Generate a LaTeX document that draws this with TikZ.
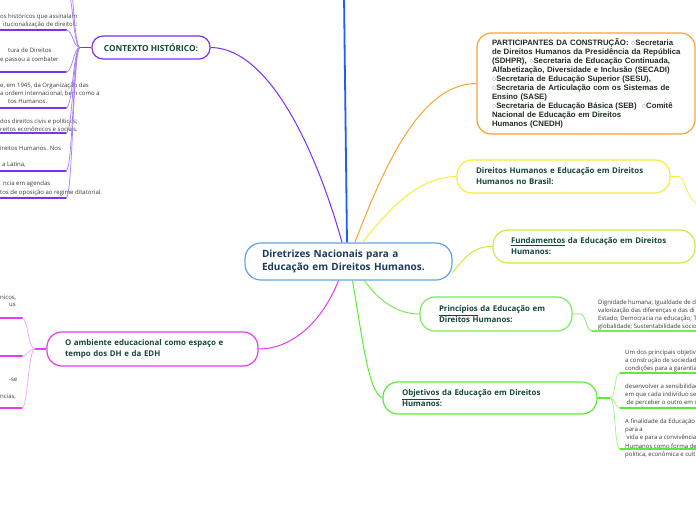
\documentclass[tikz,border=0pt]{standalone}
\usepackage{fontspec}
\setmainfont{Open Sans}
\newfontfamily\arialf{Liberation Sans}
\definecolor{cblue}{HTML}{5AA6E6}
\definecolor{lineblue}{HTML}{1F5BFF}
\definecolor{ctext}{HTML}{1E3A5A}
\definecolor{ntext}{HTML}{15473A}
\definecolor{ptext}{HTML}{1F2D1F}
\definecolor{gtext}{HTML}{3A3A3A}
\definecolor{cpurple}{HTML}{7B2FF7}
\definecolor{lpurple}{HTML}{A67CFA}
\definecolor{cmag}{HTML}{E63BF0}
\definecolor{lmag}{HTML}{F2A2F6}
\definecolor{corange}{HTML}{F7A531}
\definecolor{cyellow}{HTML}{F7EC3A}
\definecolor{cyg}{HTML}{C4F03E}
\definecolor{cgreen}{HTML}{7EE85A}
\definecolor{cgreen2}{HTML}{5EEA3C}
\definecolor{lgreen}{HTML}{9FF08A}
\newcommand\wb{{\color{gray}$\circ$}}
\newcommand\gl[1]{\begin{tabular}{@{}l@{}}#1\end{tabular}}
\tikzset{
  box/.style={draw, line width=1.2pt, fill=white, rounded corners=15pt, text=ntext,
    font=\bfseries\fontsize{7.9}{11}\selectfont, align=left, inner ysep=0pt},
  gtxt/.style={text=gtext, font=\fontsize{6}{8.4}\selectfont, inner sep=0pt, anchor=north west},
  conn/.style={line width=1pt},
  thin/.style={line width=0.7pt},
  uline/.style={line width=2pt, line cap=round}
}
\begin{document}
\begin{tikzpicture}[x=1pt,y=-1pt]
\fill[white] (0,0) rectangle (696,520);
\useasboundingbox (0,0) rectangle (696,520);

% ---------- central node
\node[box, draw=cblue, text=ctext, rounded corners=16pt, font=\bfseries\fontsize{10}{13}\selectfont,
  minimum width=207pt, minimum height=37pt, text width=173pt, inner xsep=17pt] (c) at (348.5,261.5)
  {Diretrizes Nacionais para a\\\mbox{Educação em Direitos Humanos.}};

% ---------- main branch nodes
\node[box, draw=cpurple, rounded corners=11pt, align=center, minimum width=118pt, minimum height=23pt, inner xsep=0pt,
  font=\bfseries\fontsize{8.3}{11}\selectfont]
  (ctx) at (151,47.5) {CONTEXTO HISTÓRICO:};
\node[box, draw=cmag, minimum width=211pt, minimum height=34pt, text width=175pt, inner xsep=18pt]
  (amb) at (152.5,349) {\mbox{O ambiente educacional como espaço e}\\tempo dos DH e da EDH};
\node[box, draw=corange, rounded corners=14pt, text=ptext, minimum width=218pt, minimum height=101pt,
  text width=188pt, inner xsep=15pt, font=\arialf\bfseries\fontsize{7.8}{9}\selectfont]
  (par) at (586,83.5) {\mbox{PARTICIPANTES DA CONSTRUÇÃO: \wb Secretaria}\\
  \mbox{de Direitos Humanos da Presidência da República}\\
  \mbox{(SDHPR), \wb Secretaria de Educação Continuada,}\\
  \mbox{Alfabetização, Diversidade e Inclusão (SECADI)}\\
  \mbox{\wb Secretaria de Educação Superior (SESU),}\\
  \mbox{\wb Secretaria de Articulação com os Sistemas de}\\
  Ensino (SASE)\\
  \mbox{\wb Secretaria de Educação Básica (SEB)\ \ \wb Comitê}\\
  Nacional de Educação em Direitos\\
  Humanos (CNEDH)};
\node[box, draw=cyellow, minimum width=213pt, minimum height=33pt, text width=175pt, inner xsep=19pt]
  (dhb) at (563.5,176.5) {\mbox{Direitos Humanos e Educação em Direitos}\\Humanos no Brasil:};
\node[box, draw=cyg, minimum width=202pt, minimum height=33pt, text width=166pt, inner xsep=18pt]
  (fun) at (594,246.5) {\mbox{\underline{Fundamentos} da Educação em Direitos}\\Humanos:};
\node[box, draw=cgreen, minimum width=152pt, minimum height=34pt, text width=114pt, inner xsep=19pt]
  (pri) at (496,314) {\mbox{\underline{Princípios} da Educação em}\\Direitos Humanos:};
\node[box, draw=cgreen2, minimum width=214pt, minimum height=32pt, text width=176pt, inner xsep=19pt]
  (obj) at (490,398) {\mbox{\underline{Objetivos} da Educação em Direitos}\\Humanos:};

% ---------- connectors from the centre
\coordinate (topend) at (344,-4);
\draw[lineblue, line width=1.8pt] ([xshift=-1.5pt]c.north) -- (topend);
\draw[cpurple, conn] ([xshift=-6.5pt]c.north) .. controls (322,170) and (275,48) .. (ctx.east);
\draw[corange, conn] ([xshift=6.5pt]c.north) .. controls (390,150) and (425,84) .. (par.west);
\draw[cyellow, conn] ([xshift=14pt]c.north) .. controls (392,205) and (420,177) .. (dhb.west);
\draw[cyg, conn] ([yshift=-11pt]c.east) .. controls (470,250) and (478,246.5) .. (fun.west);
\draw[cgreen, conn] ([xshift=16pt]c.south) .. controls (380,302) and (398,314) .. (pri.west);
\draw[cgreen2, conn] ([xshift=4pt]c.south) .. controls (362,335) and (368,392) .. (obj.west);
\draw[cmag, conn] ([xshift=-10pt]c.south) .. controls (322,322) and (292,349) .. (amb.east);

% ---------- CONTEXTO HISTORICO children
\coordinate (pb) at (80,47.5);
\draw[cpurple, line width=1.5pt] (ctx.west) -- (pb);
\node[gtxt] (p1) at (0,12) {\gl{os históricos que assinalam}};
\node[gtxt] (p1b) at (3,20.4) {\gl{itucionalização de direitos:}};
\node[gtxt] (p2) at (8,46) {\gl{tura de Direitos}};
\node[gtxt] (p2b) at (0,55) {\gl{e passou a combater}};
\node[gtxt] (p3) at (0,81) {\gl{e, em 1945, da Organização das\\a ordem internacional, bem como a}};
\node[gtxt] (p3b) at (8,97.8) {\gl{tos Humanos.}};
\node[gtxt] (p4) at (0,117) {\gl{dos direitos civis e políticos;\\reitos econômicos e sociais.}};
\node[gtxt] (p5) at (0,144) {\gl{ireitos Humanos. Nos}};
\node[gtxt] (p5b) at (2,160) {\gl{a Latina,}};
\node[gtxt] (p6) at (3,179) {\gl{ncia em agendas}};
\node[gtxt] (p6b) at (0,188) {\gl{tos de oposição ao regime ditatorial.}};
\foreach \n/\y in {a/-40,b/-12,1/30,2/72,3/108,4/133,5/171,6/198}{
  \coordinate (pu\n) at (66,\y);
  \coordinate (ps\n) at (-5,\y);
  \draw[cpurple, uline] (ps\n) -- (pu\n);
  \draw[lpurple, thin] (pb) .. controls (73,47.5) and (73,\y) .. (pu\n);
}

% ---------- ambiente children
\coordinate (mb) at (35,349);
\draw[cmag, line width=1.5pt] (amb.west) -- (mb);
\node[gtxt] (m1) at (0,293) {\gl{nicos,}};
\node[gtxt] (m1b) at (9,300) {\gl{us}};
\node[gtxt] (m3) at (9,375) {\gl{-se}};
\node[gtxt] (m3b) at (0,392) {\gl{ncias,}};
\foreach \n/\y in {1/318,2/356,3/408}{
  \coordinate (mu\n) at (22,\y);
  \coordinate (ms\n) at (-5,\y);
  \draw[cmag, uline] (ms\n) -- (mu\n);
  \draw[lmag, thin] (mb) .. controls (28,349) and (28,\y) .. (mu\n);
}

% ---------- Direitos Humanos no Brasil child (off page)
\coordinate (yc) at (700,204);
\draw[cyellow, thin] (dhb.east) -- ++(8,0) .. controls (686,177) and (686,203) .. (yc);

% ---------- Principios child
\coordinate (prs) at (592,331);
\coordinate (pre) at (700,331);
\node[gtxt, font=\fontsize{6}{8}\selectfont] (pt) at (598,299) {\gl{Dignidade humana; Igualdade de d\\valorização das diferenças e das di\\Estado; Democracia na educação; T\\globalidade; Sustentabilidade socio}};
\draw[cgreen, thin] (pri.east) -- ++(8,0) .. controls (586,314) and (586,331) .. (prs);
\draw[cgreen, uline] (prs) -- (pre);

% ---------- Objetivos children
\coordinate (ob) at (610,398);
\draw[cgreen2, line width=1.5pt] (obj.east) -- (ob);
\node[gtxt, font=\fontsize{6}{8}\selectfont] (o1) at (625,349) {\gl{Um dos principais objetiv\\a construção de sociedad\\condições para a garantia}};
\node[gtxt, font=\fontsize{6}{8}\selectfont] (o2) at (625,383) {\gl{desenvolver a sensibilidad\\em que cada indivíduo se}};
\node[gtxt, font=\fontsize{6}{8}\selectfont] (o2b) at (626.5,399) {\gl{de perceber o outro em s}};
\node[gtxt] (o3) at (625,417) {\gl{A finalidade da Educação\\para a}};
\node[gtxt] (o3b) at (626.5,433.8) {\gl{vida e para a convivência}};
\node[gtxt] (o3c) at (625,442.2) {\gl{Humanos como forma de\\política, econômica e cultu}};
\foreach \n/\y in {1/373,2/408,3/449}{
  \coordinate (ou\n) at (620,\y);
  \coordinate (oe\n) at (700,\y);
  \draw[cgreen2, uline] (ou\n) -- (oe\n);
  \draw[lgreen, thin] (ob) .. controls (616,398) and (614,\y) .. (ou\n);
}
\end{tikzpicture}
\end{document}
